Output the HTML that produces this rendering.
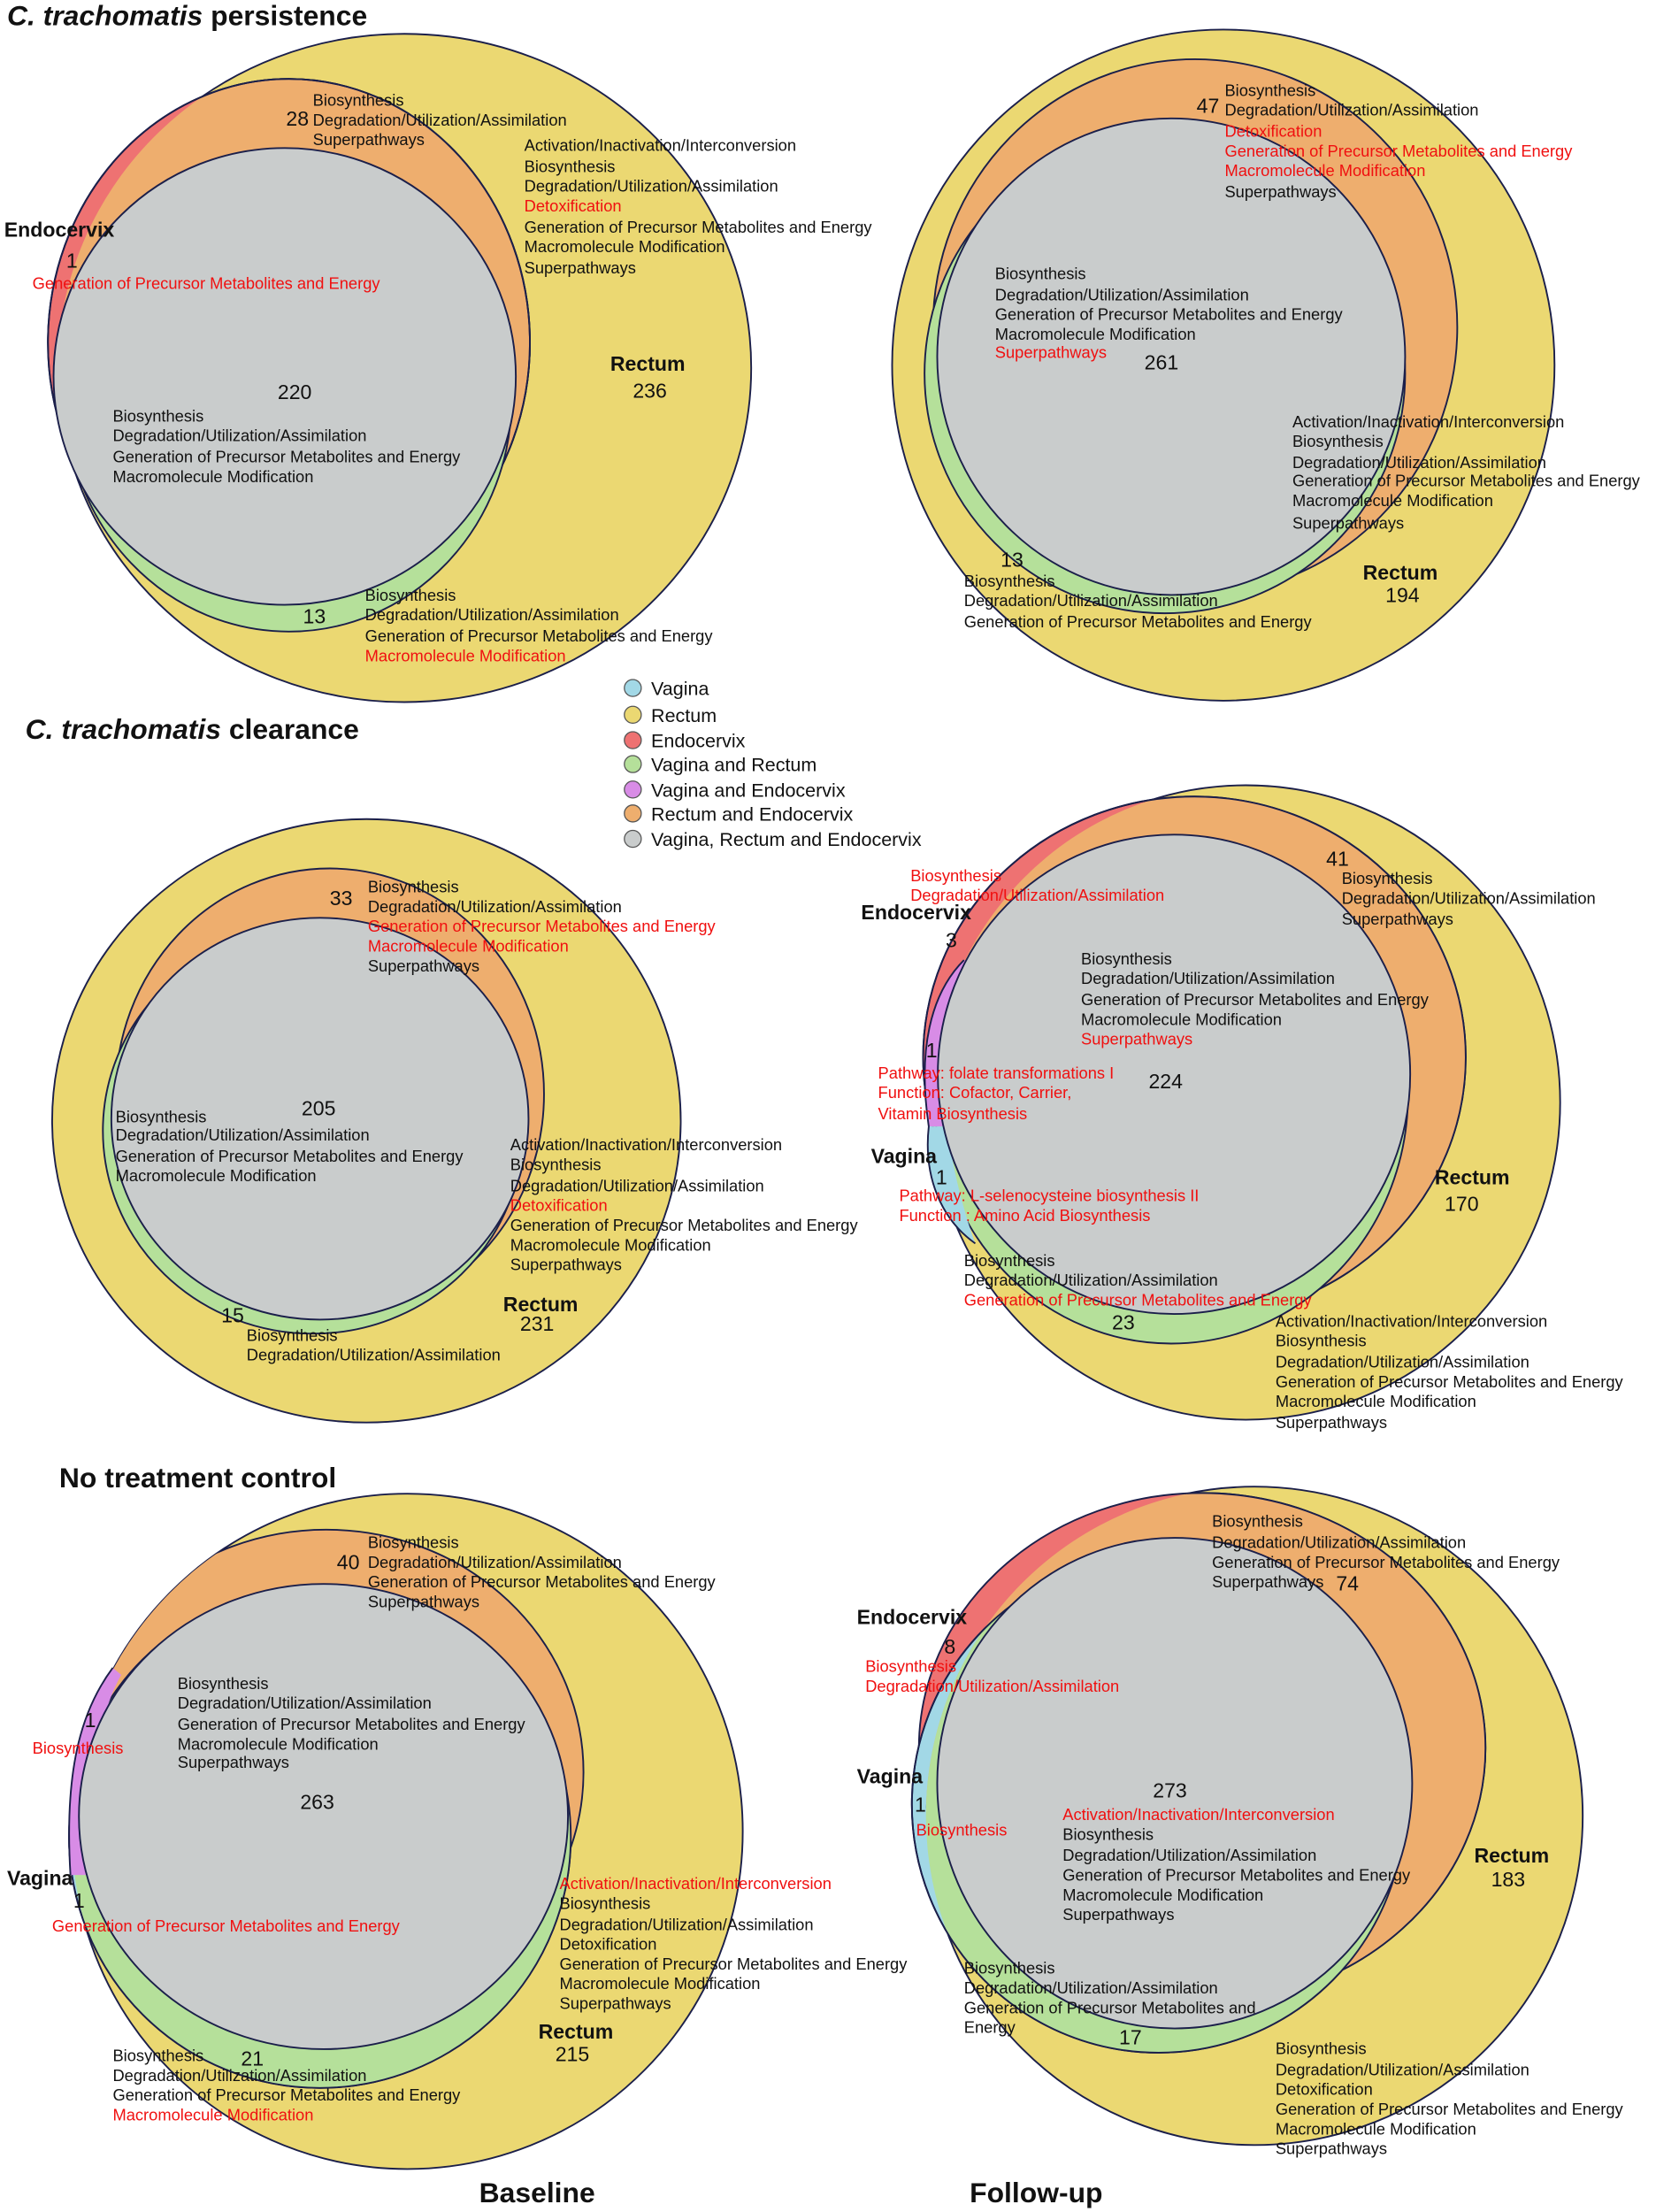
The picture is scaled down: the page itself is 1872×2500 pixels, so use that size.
<!DOCTYPE html>
<html><head><meta charset="utf-8"><style>
html,body{margin:0;padding:0;background:#fff}
svg{display:block}
text{font-family:"Liberation Sans",Arial,sans-serif;font-size:11.5px;fill:#111}
.r{fill:#f01010}
.n{font-size:14.5px}
.b{font-weight:bold;font-size:14.5px}
.t{font-weight:bold;font-size:20px}
</style></head><body>
<svg width="1872" height="2500" viewBox="0 0 1175 1569" preserveAspectRatio="none" xmlns="http://www.w3.org/2000/svg">
<defs>
<clipPath id="Y1"><ellipse cx="287" cy="261" rx="246" ry="237"/></clipPath>
<clipPath id="Y4"><ellipse cx="884" cy="782" rx="223" ry="225"/></clipPath>
<clipPath id="Y5"><ellipse cx="289" cy="1299" rx="238" ry="239.5"/></clipPath>
<clipPath id="Y6"><ellipse cx="890" cy="1288" rx="233" ry="233.5"/></clipPath>
</defs>
<rect width="1175" height="1569" fill="#fff"/>
<g stroke="#1b1f4a" stroke-width="1.2">

<!-- P1 -->
<ellipse cx="287" cy="261" rx="246" ry="237" fill="#ebd872"/>
<ellipse cx="205" cy="243" rx="171" ry="187" fill="#ee7272"/>
<g clip-path="url(#Y1)"><ellipse cx="205" cy="243" rx="171" ry="187" fill="#eeae6e"/></g>
<ellipse cx="205" cy="243" rx="171" ry="187" fill="none"/>
<ellipse cx="205" cy="283" rx="158" ry="165" fill="#b5e09a"/>
<ellipse cx="202" cy="267" rx="164" ry="162" fill="#c9cccc"/>

<!-- P2 -->
<ellipse cx="868" cy="259" rx="235" ry="238" fill="#ebd872"/>
<ellipse cx="848" cy="232" rx="186" ry="190" fill="#eeae6e"/>
<ellipse cx="826.5" cy="265" rx="170.5" ry="170" fill="#b5e09a"/>
<ellipse cx="831" cy="253" rx="166" ry="169" fill="#c9cccc"/>

<!-- P3 -->
<ellipse cx="260" cy="795" rx="223" ry="214" fill="#ebd872"/>
<ellipse cx="234" cy="776" rx="152" ry="160" fill="#eeae6e"/>
<ellipse cx="222" cy="802" rx="149" ry="144" fill="#b5e09a"/>
<ellipse cx="227" cy="793.5" rx="148" ry="142.5" fill="#c9cccc"/>

<!-- P4 -->
<ellipse cx="884" cy="782" rx="223" ry="225" fill="#ebd872"/>
<ellipse cx="847.5" cy="750" rx="192.5" ry="185" fill="#ee7272"/>
<g clip-path="url(#Y4)"><ellipse cx="847.5" cy="750" rx="192.5" ry="185" fill="#eeae6e" stroke="none"/></g>
<ellipse cx="847.5" cy="750" rx="192.5" ry="185" fill="none"/>
<g clip-path="url(#Y4)"><ellipse cx="831" cy="777" rx="168" ry="176" fill="#b5e09a" stroke="none"/></g>
<ellipse cx="831" cy="777" rx="168" ry="176" fill="none"/>
<path d="M684,681 C660,705 651,745 659,799 L672,799 C668,760 674,715 690,681 Z" fill="#d88ce6" stroke="none"/>
<path d="M659,799 C655,835 668,865 692,882 C684,860 676,830 672,799 Z" fill="#a2d8e6" stroke="none"/>
<path d="M684,681 C660,705 651,745 659,799 C655,835 668,865 692,882" fill="none"/>
<ellipse cx="833" cy="762" rx="167.6" ry="170" fill="#c9cccc"/>

<!-- P5 -->
<ellipse cx="289" cy="1299" rx="238" ry="239.5" fill="#ebd872"/>
<ellipse cx="227" cy="1303" rx="178" ry="178" fill="#a2d8e6"/>
<g clip-path="url(#Y5)"><ellipse cx="231.5" cy="1257" rx="182.5" ry="172" fill="#eeae6e" stroke="none"/></g>
<g clip-path="url(#Y5)"><ellipse cx="231.5" cy="1257" rx="182.5" ry="172" fill="none"/></g>
<g clip-path="url(#Y5)"><ellipse cx="227" cy="1303" rx="178" ry="178" fill="#b5e09a" stroke="none"/></g>
<ellipse cx="227" cy="1303" rx="178" ry="178" fill="none"/>
<path d="M80,1183 C60,1210 45,1250 50,1330 L64,1330 C62,1270 68,1220 86,1188 Z" fill="#d88ce6" stroke="none"/>
<path d="M80,1183 C60,1210 45,1250 50,1330" fill="none"/>
<ellipse cx="229.5" cy="1288.5" rx="173.5" ry="165" fill="#c9cccc"/>

<!-- P6 -->
<ellipse cx="890" cy="1288" rx="233" ry="233.5" fill="#ebd872"/>
<ellipse cx="853" cy="1240" rx="201" ry="181" fill="#ee7272"/>
<ellipse cx="822" cy="1280" rx="175" ry="176" fill="#a2d8e6"/>
<g clip-path="url(#Y6)"><ellipse cx="853" cy="1240" rx="201" ry="181" fill="#eeae6e" stroke="none"/></g>
<g clip-path="url(#Y6)"><ellipse cx="853" cy="1240" rx="201" ry="181" fill="none"/></g>
<g clip-path="url(#Y6)"><ellipse cx="822" cy="1280" rx="175" ry="176" fill="#b5e09a" stroke="none"/></g>
<ellipse cx="822" cy="1280" rx="175" ry="176" fill="none"/>
<ellipse cx="833.5" cy="1264.8" rx="168.5" ry="174" fill="#c9cccc"/>
</g>

<!-- Titles -->
<text class="t" x="5" y="18"><tspan font-style="italic">C. trachomatis</tspan> persistence</text>
<text class="t" x="18" y="524"><tspan font-style="italic">C. trachomatis</tspan> clearance</text>
<text class="t" x="42" y="1055">No treatment control</text>
<text class="t" x="340" y="1562">Baseline</text>
<text class="t" x="688" y="1562">Follow-up</text>

<!-- Legend -->
<g stroke="#555" stroke-width="0.8">
<circle cx="449" cy="488" r="6" fill="#a2d8e6"/>
<circle cx="449" cy="507" r="6" fill="#ebd872"/>
<circle cx="449" cy="525" r="6" fill="#ee7272"/>
<circle cx="449" cy="542" r="6" fill="#b5e09a"/>
<circle cx="449" cy="560" r="6" fill="#d88ce6"/>
<circle cx="449" cy="577" r="6" fill="#eeae6e"/>
<circle cx="449" cy="595" r="6" fill="#c9cccc"/>
</g>
<text x="462" y="493" style="font-size:13.5px">Vagina</text>
<text x="462" y="512" style="font-size:13.5px">Rectum</text>
<text x="462" y="530" style="font-size:13.5px">Endocervix</text>
<text x="462" y="547" style="font-size:13.5px">Vagina and Rectum</text>
<text x="462" y="565" style="font-size:13.5px">Vagina and Endocervix</text>
<text x="462" y="582" style="font-size:13.5px">Rectum and Endocervix</text>
<text x="462" y="600" style="font-size:13.5px">Vagina, Rectum and Endocervix</text>

<!-- P1 text -->
<text class="n" x="203" y="89">28</text>
<text x="222" y="75">Biosynthesis</text>
<text x="222" y="89">Degradation/Utilization/Assimilation</text>
<text x="222" y="103">Superpathways</text>
<text x="372" y="107">Activation/Inactivation/Interconversion</text>
<text x="372" y="122">Biosynthesis</text>
<text x="372" y="136">Degradation/Utilization/Assimilation</text>
<text x="372" y="150" class="r">Detoxification</text>
<text x="372" y="165">Generation of Precursor Metabolites and Energy</text>
<text x="372" y="179">Macromolecule Modification</text>
<text x="372" y="194">Superpathways</text>
<text class="b" x="3" y="168">Endocervix</text>
<text class="n" x="47" y="190">1</text>
<text x="23" y="205" class="r">Generation of Precursor Metabolites and Energy</text>
<text class="n" x="197" y="283">220</text>
<text x="80" y="299">Biosynthesis</text>
<text x="80" y="313">Degradation/Utilization/Assimilation</text>
<text x="80" y="328">Generation of Precursor Metabolites and Energy</text>
<text x="80" y="342">Macromolecule Modification</text>
<text class="b" x="433" y="263">Rectum</text>
<text class="n" x="449" y="282">236</text>
<text class="n" x="215" y="442">13</text>
<text x="259" y="426">Biosynthesis</text>
<text x="259" y="440">Degradation/Utilization/Assimilation</text>
<text x="259" y="455">Generation of Precursor Metabolites and Energy</text>
<text x="259" y="469" class="r">Macromolecule Modification</text>

<!-- P2 text -->
<text class="n" x="849" y="80">47</text>
<text x="869" y="68">Biosynthesis</text>
<text x="869" y="82">Degradation/Utilization/Assimilation</text>
<text x="869" y="97" class="r">Detoxification</text>
<text x="869" y="111" class="r">Generation of Precursor Metabolites and Energy</text>
<text x="869" y="125" class="r">Macromolecule Modification</text>
<text x="869" y="140">Superpathways</text>
<text x="706" y="198">Biosynthesis</text>
<text x="706" y="213">Degradation/Utilization/Assimilation</text>
<text x="706" y="227">Generation of Precursor Metabolites and Energy</text>
<text x="706" y="241">Macromolecule Modification</text>
<text x="706" y="254" class="r">Superpathways</text>
<text class="n" x="812" y="262">261</text>
<text x="917" y="303">Activation/Inactivation/Interconversion</text>
<text x="917" y="317">Biosynthesis</text>
<text x="917" y="332">Degradation/Utilization/Assimilation</text>
<text x="917" y="345">Generation of Precursor Metabolites and Energy</text>
<text x="917" y="359">Macromolecule Modification</text>
<text x="917" y="375">Superpathways</text>
<text class="n" x="710" y="402">13</text>
<text x="684" y="416">Biosynthesis</text>
<text x="684" y="430">Degradation/Utilization/Assimilation</text>
<text x="684" y="445">Generation of Precursor Metabolites and Energy</text>
<text class="b" x="967" y="411">Rectum</text>
<text class="n" x="983" y="427">194</text>

<!-- P3 text -->
<text class="n" x="234" y="642">33</text>
<text x="261" y="633">Biosynthesis</text>
<text x="261" y="647">Degradation/Utilization/Assimilation</text>
<text x="261" y="661" class="r">Generation of Precursor Metabolites and Energy</text>
<text x="261" y="675" class="r">Macromolecule Modification</text>
<text x="261" y="689">Superpathways</text>
<text class="n" x="214" y="791">205</text>
<text x="82" y="796">Biosynthesis</text>
<text x="82" y="809">Degradation/Utilization/Assimilation</text>
<text x="82" y="824">Generation of Precursor Metabolites and Energy</text>
<text x="82" y="838">Macromolecule Modification</text>
<text x="362" y="816">Activation/Inactivation/Interconversion</text>
<text x="362" y="830">Biosynthesis</text>
<text x="362" y="845">Degradation/Utilization/Assimilation</text>
<text x="362" y="859" class="r">Detoxification</text>
<text x="362" y="873">Generation of Precursor Metabolites and Energy</text>
<text x="362" y="887">Macromolecule Modification</text>
<text x="362" y="901">Superpathways</text>
<text class="b" x="357" y="930">Rectum</text>
<text class="n" x="369" y="944">231</text>
<text class="n" x="157" y="938">15</text>
<text x="175" y="951">Biosynthesis</text>
<text x="175" y="965">Degradation/Utilization/Assimilation</text>

<!-- P4 text -->
<text x="646" y="625" class="r">Biosynthesis</text>
<text x="646" y="639" class="r">Degradation/Utilization/Assimilation</text>
<text class="b" x="611" y="652">Endocervix</text>
<text class="n" x="671" y="672">3</text>
<text class="n" x="941" y="614">41</text>
<text x="952" y="627">Biosynthesis</text>
<text x="952" y="641">Degradation/Utilization/Assimilation</text>
<text x="952" y="656">Superpathways</text>
<text x="767" y="684">Biosynthesis</text>
<text x="767" y="698">Degradation/Utilization/Assimilation</text>
<text x="767" y="713">Generation of Precursor Metabolites and Energy</text>
<text x="767" y="727">Macromolecule Modification</text>
<text x="767" y="741" class="r">Superpathways</text>
<text class="n" x="657" y="750">1</text>
<text x="623" y="765" class="r">Pathway: folate transformations I</text>
<text x="623" y="779" class="r">Function: Cofactor, Carrier,</text>
<text x="623" y="794" class="r">Vitamin Biosynthesis</text>
<text class="n" x="815" y="772">224</text>
<text class="b" x="618" y="825">Vagina</text>
<text class="n" x="664" y="840">1</text>
<text x="638" y="852" class="r">Pathway: L-selenocysteine biosynthesis II</text>
<text x="638" y="866" class="r">Function : Amino Acid Biosynthesis</text>
<text x="684" y="898">Biosynthesis</text>
<text x="684" y="912">Degradation/Utilization/Assimilation</text>
<text x="684" y="926" class="r">Generation of Precursor Metabolites and Energy</text>
<text class="n" x="789" y="943">23</text>
<text class="b" x="1018" y="840">Rectum</text>
<text class="n" x="1025" y="859">170</text>
<text x="905" y="941">Activation/Inactivation/Interconversion</text>
<text x="905" y="955">Biosynthesis</text>
<text x="905" y="970">Degradation/Utilization/Assimilation</text>
<text x="905" y="984">Generation of Precursor Metabolites and Energy</text>
<text x="905" y="998">Macromolecule Modification</text>
<text x="905" y="1013">Superpathways</text>

<!-- P5 text -->
<text class="n" x="239" y="1113">40</text>
<text x="261" y="1098">Biosynthesis</text>
<text x="261" y="1112">Degradation/Utilization/Assimilation</text>
<text x="261" y="1126">Generation of Precursor Metabolites and Energy</text>
<text x="261" y="1140">Superpathways</text>
<text x="126" y="1198">Biosynthesis</text>
<text x="126" y="1212">Degradation/Utilization/Assimilation</text>
<text x="126" y="1227">Generation of Precursor Metabolites and Energy</text>
<text x="126" y="1241">Macromolecule Modification</text>
<text x="126" y="1254">Superpathways</text>
<text class="n" x="213" y="1283">263</text>
<text class="n" x="60" y="1225">1</text>
<text x="23" y="1244" class="r">Biosynthesis</text>
<text class="b" x="5" y="1337">Vagina</text>
<text class="n" x="52" y="1353">1</text>
<text x="37" y="1370" class="r">Generation of Precursor Metabolites and Energy</text>
<text x="397" y="1340" class="r">Activation/Inactivation/Interconversion</text>
<text x="397" y="1354">Biosynthesis</text>
<text x="397" y="1369">Degradation/Utilization/Assimilation</text>
<text x="397" y="1383">Detoxification</text>
<text x="397" y="1397">Generation of Precursor Metabolites and Energy</text>
<text x="397" y="1411">Macromolecule Modification</text>
<text x="397" y="1425">Superpathways</text>
<text class="b" x="382" y="1446">Rectum</text>
<text class="n" x="394" y="1462">215</text>
<text x="80" y="1462">Biosynthesis</text>
<text x="80" y="1476">Degradation/Utilization/Assimilation</text>
<text x="80" y="1490">Generation of Precursor Metabolites and Energy</text>
<text x="80" y="1504" class="r">Macromolecule Modification</text>
<text class="n" x="171" y="1465">21</text>

<!-- P6 text -->
<text x="860" y="1083">Biosynthesis</text>
<text x="860" y="1098">Degradation/Utilization/Assimilation</text>
<text x="860" y="1112">Generation of Precursor Metabolites and Energy</text>
<text x="860" y="1126">Superpathways</text>
<text class="n" x="948" y="1128">74</text>
<text class="b" x="608" y="1152">Endocervix</text>
<text class="n" x="670" y="1173">8</text>
<text x="614" y="1186" class="r">Biosynthesis</text>
<text x="614" y="1200" class="r">Degradation/Utilization/Assimilation</text>
<text class="b" x="608" y="1265">Vagina</text>
<text class="n" x="649" y="1285">1</text>
<text x="650" y="1302" class="r">Biosynthesis</text>
<text class="n" x="818" y="1275">273</text>
<text x="754" y="1291" class="r">Activation/Inactivation/Interconversion</text>
<text x="754" y="1305">Biosynthesis</text>
<text x="754" y="1320">Degradation/Utilization/Assimilation</text>
<text x="754" y="1334">Generation of Precursor Metabolites and Energy</text>
<text x="754" y="1348">Macromolecule Modification</text>
<text x="754" y="1362">Superpathways</text>
<text class="b" x="1046" y="1321">Rectum</text>
<text class="n" x="1058" y="1338">183</text>
<text x="684" y="1400">Biosynthesis</text>
<text x="684" y="1414">Degradation/Utilization/Assimilation</text>
<text x="684" y="1428">Generation of Precursor Metabolites and</text>
<text x="684" y="1442">Energy</text>
<text class="n" x="794" y="1450">17</text>
<text x="905" y="1457">Biosynthesis</text>
<text x="905" y="1472">Degradation/Utilization/Assimilation</text>
<text x="905" y="1486">Detoxification</text>
<text x="905" y="1500">Generation of Precursor Metabolites and Energy</text>
<text x="905" y="1514">Macromolecule Modification</text>
<text x="905" y="1528">Superpathways</text>
</svg>
</body></html>
